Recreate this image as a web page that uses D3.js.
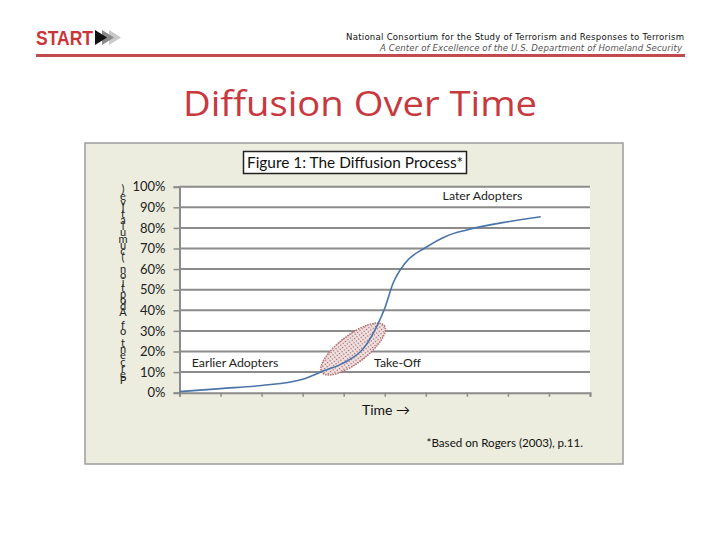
<!DOCTYPE html>
<html>
<head>
<meta charset="utf-8">
<script src="https://cdn.jsdelivr.net/npm/d3@7"></script>
<style>
  body { margin: 0; background: #fff; }
  svg { display: block; }
</style>
</head>
<body>
<div id="chart"></div>
<script>
// chart data
var yTicks = [0, 0.1, 0.2, 0.3, 0.4, 0.5, 0.6, 0.7, 0.8, 0.9, 1.0];
var xTicks = [0, 1, 2, 3, 4, 5, 6, 7, 8, 9, 10];
var times = [0, 1, 2, 3, 3.5, 4, 4.5, 4.8, 5, 5.2, 5.5, 6, 6.5, 7, 8, 8.8];
var adoption = [0.005, 0.02, 0.035, 0.065, 0.105, 0.145, 0.22, 0.32, 0.41, 0.53, 0.63, 0.705, 0.76, 0.79, 0.83, 0.854];
var yLabel = "Percent of Adoption (cumulative)";

var svg = d3.select("#chart").append("svg")
  .attr("width", 720)
  .attr("height", 540);

// ---- header ----
var head = svg.append("g");
head.append("text")
  .attr("x", 36).attr("y", 45)
  .attr("font-family", "Liberation Sans Narrow, Liberation Sans")
  .attr("font-weight", "bold")
  .attr("font-size", 20)
  .attr("fill", "#c8363b")
  .attr("textLength", 57)
  .attr("lengthAdjust", "spacingAndGlyphs")
  .text("START");
head.append("path").attr("d", "M109,30 L121,37.5 L109,45 Z").attr("fill", "#c9c9c9");
head.append("path").attr("d", "M102,30 L114,37.5 L102,45 Z").attr("fill", "#8a8a8a");
head.append("path").attr("d", "M95,30 L107,37.5 L95,45 Z").attr("fill", "#111");

head.append("text")
  .attr("x", 684).attr("y", 40)
  .attr("text-anchor", "end")
  .attr("font-family", "Liberation Sans Narrow, DejaVu Sans Condensed, sans-serif")
  .attr("font-size", 9.5)
  .attr("fill", "#111")
  .attr("textLength", 338)
  .text("National Consortium for the Study of Terrorism and Responses to Terrorism");
head.append("text")
  .attr("x", 682).attr("y", 51)
  .attr("text-anchor", "end")
  .attr("font-family", "Liberation Sans Narrow, DejaVu Sans Condensed, sans-serif")
  .attr("font-style", "italic")
  .attr("font-size", 9.5)
  .attr("fill", "#555")
  .attr("textLength", 302)
  .text("A Center of Excellence of the U.S. Department of Homeland Security");
head.append("rect")
  .attr("x", 36).attr("y", 54).attr("width", 649).attr("height", 3)
  .attr("fill", "#c24a4e");

svg.append("text")
  .attr("x", 360).attr("y", 116)
  .attr("text-anchor", "middle")
  .attr("font-family", "'Open Sans', Lato, sans-serif")
  .attr("font-size", 35)
  .attr("fill", "#c8393f")
  .attr("textLength", 354)
  .attr("lengthAdjust", "spacingAndGlyphs")
  .text("Diffusion Over Time");

// ---- chart panel ----
svg.append("rect")
  .attr("x", 85).attr("y", 143).attr("width", 538).attr("height", 321)
  .attr("fill", "#ecedde")
  .attr("stroke", "#9c9c9c")
  .attr("stroke-width", 1.5);

var x = d3.scaleLinear().domain([0, 10]).range([179.5, 590]);
var y = d3.scaleLinear().domain([0, 1]).range([392.7, 186.7]);

svg.append("rect")
  .attr("x", x(0)).attr("y", y(1))
  .attr("width", x(10) - x(0)).attr("height", y(0) - y(1))
  .attr("fill", "#fff");

// gridlines
svg.append("g").selectAll("line").data(yTicks.slice(1)).enter()
  .append("line")
  .attr("x1", x(0)).attr("x2", x(10))
  .attr("y1", d => y(d)).attr("y2", d => y(d))
  .attr("stroke", "#8c8c8c")
  .attr("stroke-width", 2);

var labelFont = "Lato, 'Open Sans', sans-serif";

// axes
var yAxis = d3.axisLeft(y).tickValues(yTicks).tickSize(6).tickPadding(8)
  .tickFormat(d3.format(".0%"));
var yg = svg.append("g").attr("transform", `translate(${x(0)},0)`).call(yAxis);
yg.select(".domain").attr("stroke", "#8c8c8c").attr("stroke-width", 2);
yg.selectAll(".tick line").attr("stroke", "#8c8c8c").attr("stroke-width", 1.5);
yg.selectAll(".tick text")
  .attr("font-family", labelFont)
  .attr("font-size", 13)
  .attr("fill", "#222");

var xAxis = d3.axisBottom(x).tickValues(xTicks).tickSize(4).tickFormat("");
var xg = svg.append("g").attr("transform", `translate(0,${y(0)})`).call(xAxis);
xg.select(".domain").attr("stroke", "#8c8c8c").attr("stroke-width", 2);
xg.selectAll(".tick line").attr("stroke", "#8c8c8c").attr("stroke-width", 1.5);

// y label: stacked upright letters, read bottom to top
var chars = yLabel.split("");
svg.append("g").selectAll("text").data(chars).enter()
  .append("text")
  .attr("x", 123)
  .attr("y", (d, i) => 384 - i * 6.15)
  .attr("text-anchor", "middle")
  .attr("font-family", labelFont)
  .attr("font-size", 11)
  .attr("fill", "#222")
  .text(d => d);

// take-off ellipse with dotted fill
var defs = svg.append("defs");
var pat = defs.append("pattern")
  .attr("id", "dots")
  .attr("patternUnits", "userSpaceOnUse")
  .attr("width", 3).attr("height", 3);
pat.append("rect").attr("width", 3).attr("height", 3).attr("fill", "#f2e2e2");
pat.append("circle").attr("cx", 1.5).attr("cy", 1.5).attr("r", 0.7).attr("fill", "#9a5a5e");

svg.append("ellipse")
  .attr("transform", `translate(${x(4.23)},${y(0.212)}) rotate(-37)`)
  .attr("rx", 39).attr("ry", 14)
  .attr("fill", "url(#dots)")
  .attr("stroke", "#b87074")
  .attr("stroke-width", 1.5)
  .attr("stroke-dasharray", "1.5,1");

// diffusion curve
var line = d3.line()
  .x((d, i) => x(times[i]))
  .y(d => y(d))
  .curve(d3.curveMonotoneX);
svg.append("path")
  .datum(adoption)
  .attr("d", line)
  .attr("fill", "none")
  .attr("stroke", "#4a74a8")
  .attr("stroke-width", 1.6);

// annotations
svg.append("text")
  .attr("x", x(7.38)).attr("y", y(0.935))
  .attr("text-anchor", "middle")
  .attr("font-family", labelFont).attr("font-size", 12.3).attr("fill", "#222")
  .text("Later Adopters");
svg.append("text")
  .attr("x", x(0.3)).attr("y", y(0.127))
  .attr("font-family", labelFont).attr("font-size", 12.3).attr("fill", "#222")
  .text("Earlier Adopters");
svg.append("text")
  .attr("x", x(4.74)).attr("y", y(0.127))
  .attr("font-family", labelFont).attr("font-size", 12.3).attr("fill", "#222")
  .text("Take-Off");

svg.append("text")
  .attr("x", 386).attr("y", 415)
  .attr("text-anchor", "middle")
  .attr("font-family", labelFont).attr("font-size", 14).attr("fill", "#111")
  .text("Time \u2192");

svg.append("text")
  .attr("x", 583).attr("y", 447)
  .attr("text-anchor", "end")
  .attr("font-family", labelFont).attr("font-size", 11.6).attr("fill", "#111")
  .text("*Based on Rogers (2003), p.11.");

// title box
svg.append("rect")
  .attr("x", 243.5).attr("y", 151.5).attr("width", 223).attr("height", 22)
  .attr("fill", "#fff")
  .attr("stroke", "#222")
  .attr("stroke-width", 1.5);
svg.append("text")
  .attr("x", 355).attr("y", 168)
  .attr("text-anchor", "middle")
  .attr("font-family", labelFont).attr("font-size", 15.4).attr("fill", "#111")
  .text("Figure 1: The Diffusion Process*");
</script>
</body>
</html>
